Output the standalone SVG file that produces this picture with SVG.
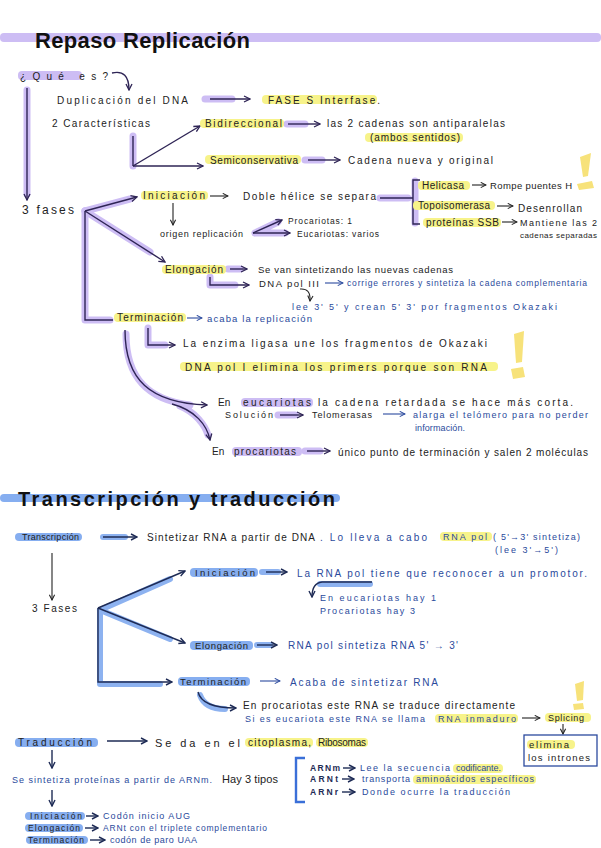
<svg xmlns="http://www.w3.org/2000/svg" width="601" height="848" viewBox="0 0 601 848">
<defs>
<marker id="ap" viewBox="0 0 8 8" refX="7" refY="4" markerWidth="8" markerHeight="8" markerUnits="userSpaceOnUse" orient="auto"><path d="M1,1 L7,4 L1,7" fill="none" stroke="#2e2455" stroke-width="1.3"/></marker>
<marker id="ak" viewBox="0 0 8 8" refX="7" refY="4" markerWidth="7" markerHeight="7" markerUnits="userSpaceOnUse" orient="auto"><path d="M1,1 L7,4 L1,7" fill="none" stroke="#222" stroke-width="1.2"/></marker>
<marker id="ab" viewBox="0 0 8 8" refX="7" refY="4" markerWidth="7" markerHeight="7" markerUnits="userSpaceOnUse" orient="auto"><path d="M1,1 L7,4 L1,7" fill="none" stroke="#2b4a9e" stroke-width="1.2"/></marker>
<marker id="an" viewBox="0 0 8 8" refX="7" refY="4" markerWidth="8" markerHeight="8" markerUnits="userSpaceOnUse" orient="auto"><path d="M1,1 L7,4 L1,7" fill="none" stroke="#1e2b55" stroke-width="1.4"/></marker>
</defs>
<style>
text{font-family:"Liberation Sans",Arial,sans-serif;font-size:10px;fill:#222}
.b{fill:#2a4a9c}
.s{font-size:9px}
.xs{font-size:8.5px}
.ttl{font-weight:bold;font-size:22px;fill:#111}
.hy{fill:#f7f38a}
.hp{fill:#cdbdf4}
.hb{fill:#86aef0}
.g{fill:none;stroke:#cdbdf4;stroke-width:7;stroke-linecap:round;stroke-linejoin:round}
.gb{fill:none;stroke:#8db2f0;stroke-width:6;stroke-linecap:round;stroke-linejoin:round}
.l{fill:none;stroke:#2e2455;stroke-width:1.4;marker-end:url(#ap)}
.lk{fill:none;stroke:#222;stroke-width:1.1;marker-end:url(#ak)}
.lb{fill:none;stroke:#2b4a9e;stroke-width:1.1;marker-end:url(#ab)}
.ln{fill:none;stroke:#1e2b55;stroke-width:1.4;marker-end:url(#an)}
.nm{marker-end:none}
.ex{fill:#f7e27a}
</style>
<rect width="601" height="848" fill="#ffffff"/>

<g id="decor">
<rect x="0" y="33" width="601" height="9" rx="4" class="hp"/>
<rect x="0" y="494" width="340" height="8" rx="4" class="hb"/>
<polygon class="ex" points="580,157 591,153 588,176 583,177"/>
<polygon class="ex" points="577,184 592,181 594,188 579,190"/>
<polygon class="ex" points="514,334 524,331 522,362 516,363"/>
<polygon class="ex" points="511,369 523,367 525,377 513,379"/>
<polygon class="ex" points="575,684 584,681 583,700 577,701"/>
<polygon class="ex" points="573,704 583,703 584,709 574,710"/>
</g>

<g id="connectors">
<path class="l" d="M112,73 Q129,69 129,90"/>
<path class="g" d="M27,90 L27,194"/>
<path class="l" d="M27,88 L27,200"/>
<path class="g" d="M205,99 L232,99"/>
<path class="l" d="M210,99 L250,99"/>
<path class="g" d="M133,136 L133,166"/>
<path class="l nm" d="M133,136 L133,166"/>
<path class="l" d="M133,166 L200,126"/>
<path class="l" d="M133,166 L203,166"/>
<path class="g" d="M287,124 L305,124"/>
<path class="l" d="M288,124 L320,124"/>
<path class="g" d="M305,160 L322,160"/>
<path class="l" d="M308,160 L340,160"/>
<path class="g" d="M85,211 L130,199"/>
<path class="g" d="M85,211 L150,252"/>
<path class="g" d="M85,211 L85,320 L110,320"/>
<path class="l" d="M85,211 L137,197"/>
<path class="l" d="M85,211 L165,262"/>
<path class="l nm" d="M85,211 L85,320 L113,320"/>
<path class="lk" d="M210,196 L228,196"/>
<path class="g" d="M380,198 L408,198 M415,181 L415,223"/>
<path class="l nm" d="M380,198 L413,198 M420,180 L413,180 L413,224 L420,224"/>
<path class="lk" d="M472,185 L486,185"/>
<path class="lk" d="M497,206 L513,206"/>
<path class="lk" d="M502,222 L517,222"/>
<path class="lk" d="M173,203 L173,225"/>
<path class="g" d="M255,233 L278,222 M255,233 L285,233"/>
<path class="l" d="M253,233 L282,220"/>
<path class="l" d="M253,233 L290,233"/>
<path class="g" d="M228,269 L240,269"/>
<path class="l" d="M230,269 L247,269"/>
<path class="g" d="M210,277 L210,285 L235,285"/>
<path class="l" d="M210,277 L210,285 L249,285"/>
<path class="lb" d="M325,283 L343,283"/>
<path class="lk" d="M300,289 Q311,288 310,301"/>
<path class="lb" d="M187,318 L202,318"/>
<path class="g" d="M148,328 L148,345 L165,345"/>
<path class="l" d="M148,328 L148,345 L175,345"/>
<path class="g" d="M126,334 C126,380 150,400 190,405 M180,406 C195,412 205,425 208,435"/>
<path class="l" d="M125,330 C125,380 150,403 207,405"/>
<path class="l" d="M172,404 C195,410 207,425 210,440"/>
<path class="g" d="M278,415 L295,415"/>
<path class="l" d="M280,415 L303,415"/>
<path class="lb" d="M383,414 L405,414"/>
<path class="g" d="M305,451 L320,451"/>
<path class="l" d="M307,451 L330,451"/>

<path class="gb" d="M103,537 L125,537"/>
<path class="ln" d="M103,537 L137,537"/>
<path class="lk" d="M52,553 L52,600"/>
<path class="gb" d="M100,610 L170,579 M100,610 L170,639 M100,610 L100,684 L160,684"/>
<path class="ln" d="M98,608 L185,571"/>
<path class="ln" d="M98,608 L185,643"/>
<path class="ln" d="M98,608 L98,682 L172,682"/>
<path class="gb" d="M262,572 L278,572"/>
<path class="ln" d="M266,572 L287,572"/>
<path class="gb" d="M320,584 L370,584"/>
<path class="ln" d="M372,582 L322,582 Q312,583 312,597"/>
<path class="gb" d="M257,645 L270,645"/>
<path class="ln" d="M257,645 L277,645"/>
<path class="lb" d="M260,681 L280,681"/>
<path class="gb" d="M200,695 Q205,709 225,709"/>
<path class="ln" d="M198,692 Q202,708 236,708"/>
<path class="lk" d="M522,718 L540,718"/>
<path class="lk" d="M563,724 L563,734"/>
<path class="ln" d="M107,741 L147,741"/>
<path class="ln" d="M52,750 L52,768"/>
<path d="M305,758 L296,758 L296,802 L305,802" fill="none" stroke="#3a6fd8" stroke-width="2.4"/>
<path class="ln" d="M343,768 L355,768"/>
<path class="ln" d="M342,779 L354,779"/>
<path class="ln" d="M342,792 L355,792"/>
<path class="ln" d="M52,790 L52,806"/>
<path class="ln" d="M86,816 L98,816"/>
<path class="ln" d="M85,828 L98,828"/>
<path class="ln" d="M90,840 L105,840"/>
</g>

<g id="title1"><text class="ttl" x="35" y="48" textLength="215">Repaso Replicación</text></g>
<g id="que"><rect x="18" y="71" width="64" height="9" rx="4" class="hp"/><text x="20" y="80" textLength="88">¿Qué es?</text></g>
<g id="duplicacion"><text x="57" y="104" textLength="131">Duplicación del DNA</text></g>
<g id="fase"><rect x="262" y="95" width="115" height="9" rx="4" class="hy"/><text x="268" y="104" textLength="112">FASE S Interfase.</text></g>
<g id="caracteristicas"><text x="52" y="127" textLength="98">2 Características</text></g>
<g id="bidireccional"><rect x="200" y="119" width="84" height="9" rx="4" class="hy"/><text x="205" y="127" textLength="77">Bidireccional</text></g>
<g id="antiparalelas"><text x="327" y="127" textLength="178">las 2 cadenas son antiparalelas</text></g>
<g id="ambos"><rect x="365" y="133" width="98" height="9" rx="4" class="hy"/><text x="370" y="141" textLength="90">(ambos sentidos)</text></g>
<g id="semiconservativa"><rect x="205" y="155" width="96" height="9" rx="4" class="hy"/><text x="210" y="164" textLength="88">Semiconservativa</text></g>
<g id="cadena"><text x="348" y="164" textLength="145">Cadena nueva y original</text></g>
<g id="fases"><text x="22" y="214" textLength="52" style="font-size:12px">3 fases</text></g>
<g id="iniciacion"><rect x="141" y="191" width="67" height="9" rx="4" class="hy"/><text x="143" y="199" textLength="62">Iniciación</text></g>
<g id="doble"><text x="243" y="200" textLength="133">Doble hélice se separa</text></g>
<g id="helicasa"><rect x="418" y="181" width="52" height="9" rx="4" class="hy"/><text x="422" y="189" textLength="42">Helicasa</text></g>
<g id="rompe"><text x="490" y="189" textLength="82" style="font-size:9.5px">Rompe puentes H</text></g>
<g id="topo"><rect x="413" y="201" width="82" height="9" rx="4" class="hy"/><text x="418" y="209" textLength="72">Topoisomerasa</text></g>
<g id="desenrollan"><text x="518" y="212" textLength="64">Desenrollan</text></g>
<g id="ssb"><rect x="423" y="218" width="78" height="9" rx="4" class="hy"/><text x="426" y="226" textLength="73">proteínas SSB</text></g>
<g id="mantiene"><text class="s" x="520" y="226" textLength="77">Mantiene las 2</text><text x="520" y="238" textLength="77" style="font-size:8px">cadenas separadas</text></g>
<g id="origen"><text class="s" x="160" y="237" textLength="83">origen replicación</text></g>
<g id="procariotas1"><text class="xs" x="288" y="224" textLength="64">Procariotas: 1</text></g>
<g id="eucariotas1"><text class="xs" x="297" y="237" textLength="82">Eucariotas: varios</text></g>
<g id="elongacion"><rect x="162" y="265" width="64" height="9" rx="4" class="hy"/><text x="165" y="273" textLength="58">Elongación</text></g>
<g id="sevan"><text x="258" y="273" textLength="195" style="font-size:9.5px">Se van sintetizando las nuevas cadenas</text></g>
<g id="dnapol3"><text x="259" y="287" textLength="60" style="font-size:9.5px">DNA pol III</text></g>
<g id="corrige"><text class="b xs" x="347" y="286" textLength="240">corrige errores y sintetiza la cadena complementaria</text></g>
<g id="lee"><text class="b s" x="292" y="310" textLength="265">lee 3' 5'  y crean 5' 3' por fragmentos Okazaki</text></g>
<g id="terminacion"><rect x="114" y="313" width="72" height="9" rx="4" class="hy"/><text x="117" y="321" textLength="66">Terminación</text></g>
<g id="acaba"><text class="b" x="207" y="322" textLength="105" style="font-size:9.5px">acaba la replicación</text></g>
<g id="ligasa"><text x="183" y="347" textLength="304">La enzima ligasa une los fragmentos de Okazaki</text></g>
<g id="dnapol1"><rect x="180" y="362" width="318" height="9" rx="4" class="hy"/><text x="185" y="371" textLength="302">DNA pol I elimina los primers porque son RNA</text></g>
<g id="eucariotas"><rect x="241" y="398" width="72" height="9" rx="4" class="hp"/><text x="218" y="406">En</text><text x="243" y="406" textLength="68">eucariotas</text><text x="318" y="406" textLength="255">la cadena retardada se hace más corta.</text></g>
<g id="solucion"><text class="s" x="225" y="418" textLength="48">Solución</text></g>
<g id="telomerasas"><text class="s" x="312" y="418" textLength="60">Telomerasas</text></g>
<g id="alarga"><text class="b s" x="413" y="418" textLength="175">alarga el telómero para no perder</text><text class="b s" x="415" y="431" textLength="50">información.</text></g>
<g id="procariotas"><rect x="232" y="447" width="70" height="9" rx="4" class="hp"/><text x="212" y="455">En</text><text x="234" y="455" textLength="62">procariotas</text></g>
<g id="unico"><text x="338" y="456" textLength="250">único punto de terminación y salen 2 moléculas</text></g>

<g id="title2"><text class="ttl" x="18" y="506" textLength="317" style="font-size:20px">Transcripción y traducción</text></g>
<g id="transcripcion"><rect x="15" y="533" width="67" height="8" rx="4" class="hb"/><text class="s" x="22" y="540" textLength="57">Transcripción</text></g>
<g id="sintetizar"><text x="147" y="541" textLength="168">Sintetizar RNA a partir de DNA</text><text class="b" x="320" y="541" textLength="107">. Lo lleva a cabo</text></g>
<g id="rnapol"><rect x="440" y="532" width="52" height="9" rx="4" class="hy"/><text class="b s" x="443" y="540" textLength="44">RNA pol</text></g>
<g id="sentido"><text class="b s" x="493" y="540" textLength="87">( 5'→3' sintetiza)</text><text class="b s" x="495" y="553" textLength="63">(lee 3'→5')</text></g>
<g id="fases2"><text x="32" y="612" textLength="45">3 Fases</text></g>
<g id="iniciacion2"><rect x="190" y="568" width="68" height="9" rx="4" class="hb"/><text x="195" y="576" textLength="60" style="font-size:9.5px">Iniciación</text></g>
<g id="promotor"><text class="b" x="297" y="577" textLength="290">La RNA pol tiene que reconocer a un promotor.</text></g>
<g id="hay"><text class="b s" x="320" y="601" textLength="116">En eucariotas hay 1</text><text class="b s" x="320" y="614" textLength="95">Procariotas hay 3</text></g>
<g id="elongacion2"><rect x="190" y="641" width="63" height="9" rx="4" class="hb"/><text x="195" y="649" textLength="53" style="font-size:9.5px">Elongación</text></g>
<g id="rnasint"><text class="b" x="288" y="649" textLength="170">RNA pol sintetiza RNA 5' → 3'</text></g>
<g id="terminacion2"><rect x="178" y="677" width="72" height="9" rx="4" class="hb"/><text x="180" y="685" textLength="66" style="font-size:9.5px">Terminación</text></g>
<g id="acaba2"><text class="b" x="290" y="686" textLength="148">Acaba de sintetizar RNA</text></g>
<g id="enprocariotas"><text x="243" y="709" textLength="272">En procariotas este RNA se traduce directamente</text></g>
<g id="sieucariota"><text class="b s" x="245" y="722" textLength="180">Si es eucariota este RNA se llama</text></g>
<g id="inmaduro"><rect x="435" y="714" width="83" height="9" rx="4" class="hy"/><text class="b s" x="438" y="722" textLength="78">RNA inmaduro</text></g>
<g id="splicing"><rect x="545" y="713" width="46" height="9" rx="4" class="hy"/><text class="s" x="548" y="721" textLength="36">Splicing</text></g>
<g id="elimina"><rect x="524" y="735" width="73" height="31" fill="#ffffff" stroke="#2b4a9e" stroke-width="1.3"/><rect x="527" y="740" width="48" height="9" rx="4" class="hy"/><text x="529" y="748" textLength="40" style="font-size:9.5px">elimina</text><text x="528" y="761" textLength="62" style="font-size:9.5px">los intrones</text></g>
<g id="traduccion"><rect x="15" y="738" width="83" height="9" rx="4" class="hb"/><text x="18" y="746" textLength="74">Traducción</text></g>
<g id="seda"><text x="155" y="747" textLength="85" style="font-size:11px">Se da en el</text><rect x="245" y="738" width="68" height="9" rx="4" class="hy"/><text x="248" y="746" textLength="63">citoplasma,</text><rect x="316" y="738" width="52" height="9" rx="4" class="hy"/><text x="318" y="746" textLength="48">Ribosomas</text></g>
<g id="sintetiza"><text class="b s" x="12" y="783" textLength="200">Se sintetiza proteínas a partir de ARNm.</text><text x="222" y="783" textLength="56" style="font-size:11px">Hay 3 tipos</text></g>
<g id="arnm"><text class="xs" x="310" y="771" textLength="30" style="font-weight:bold;fill:#1e2b55">ARNm</text><text class="b s" x="360" y="771" textLength="90">Lee la secuencia</text><rect x="453" y="764" width="50" height="9" rx="4" class="hy"/><text class="b s" x="456" y="771" textLength="45">codificante.</text></g>
<g id="arnt"><text class="xs" x="310" y="782" textLength="28" style="font-weight:bold;fill:#1e2b55">ARNt</text><text class="b s" x="362" y="782" textLength="48">transporta</text><rect x="413" y="775" width="123" height="9" rx="4" class="hy"/><text class="b s" x="416" y="782" textLength="118">aminoácidos específicos</text></g>
<g id="arnr"><text class="xs" x="310" y="795" textLength="28" style="font-weight:bold;fill:#1e2b55">ARNr</text><text class="b s" x="362" y="795" textLength="148">Donde ocurre la traducción</text></g>
<g id="iniciacion3"><rect x="25" y="812" width="60" height="8" rx="4" class="hb"/><text class="xs" x="30" y="819" textLength="52">Iniciación</text><text class="b s" x="103" y="819" textLength="87">Codón inicio AUG</text></g>
<g id="elongacion3"><rect x="25" y="824" width="58" height="8" rx="4" class="hb"/><text class="xs" x="28" y="831" textLength="52">Elongación</text><text class="b xs" x="103" y="831" textLength="164">ARNt con el triplete complementario</text></g>
<g id="terminacion3"><rect x="26" y="836" width="62" height="8" rx="4" class="hb"/><text class="xs" x="28" y="843" textLength="56">Terminación</text><text class="b s" x="110" y="843" textLength="87">codón de paro UAA</text></g>
</svg>
